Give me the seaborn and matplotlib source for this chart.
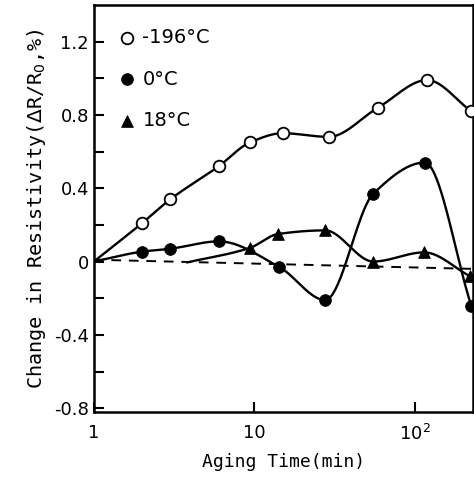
import numpy as np
import pandas as pd
import matplotlib
matplotlib.use("Agg")
import matplotlib.pyplot as plt
import seaborn as sns

t_196 = [2, 3, 6, 9.4, 15, 29, 59, 119, 224]
r_196 = [0.21, 0.34, 0.52, 0.65, 0.70, 0.68, 0.84, 0.99, 0.82]

t_0 = [2, 3, 6, 14.3, 27.6, 55, 115, 224]
r_0 = [0.054, 0.07, 0.11, -0.03, -0.21, 0.37, 0.54, -0.24]

t_18 = [9.4, 14, 27.6, 55, 114, 220]
r_18 = [0.075, 0.15, 0.17, 0.0, 0.05, -0.08]

# where the hand-drawn curves begin (no marker there)
start_196 = (1, 0.0)
start_0 = (1, 0.0)
start_18 = (3.8, -0.005)

# dashed reference line
base_t = [1, 230]
base_r = [0.01, -0.04]


def smooth(tx, ry, n=40):
    # monotone cubic (Fritsch-Carlson) in log-time, for drawing the curve only
    x = np.log10(np.asarray(tx, float))
    y = np.asarray(ry, float)
    h = np.diff(x)
    d = np.diff(y) / h
    m = np.zeros_like(y)
    m[0], m[-1] = d[0], d[-1]
    for i in range(1, len(y) - 1):
        if d[i - 1] * d[i] > 0:
            w1 = 2 * h[i] + h[i - 1]
            w2 = h[i] + 2 * h[i - 1]
            m[i] = (w1 + w2) / (w1 / d[i - 1] + w2 / d[i])
    xs, ys = [], []
    s = np.linspace(0, 1, n, endpoint=False)
    for i in range(len(h)):
        h00 = 2 * s ** 3 - 3 * s ** 2 + 1
        h10 = s ** 3 - 2 * s ** 2 + s
        h01 = -2 * s ** 3 + 3 * s ** 2
        h11 = s ** 3 - s ** 2
        xs.extend(x[i] + s * h[i])
        ys.extend(h00 * y[i] + h10 * h[i] * m[i] + h01 * y[i + 1]
                  + h11 * h[i] * m[i + 1])
    xs.append(x[-1]); ys.append(y[-1])
    return 10 ** np.array(xs), np.array(ys)


sns.set_style("ticks")
plt.rcParams["font.family"] = ["DejaVu Sans"]
plt.rcParams["text.color"] = "black"
plt.rcParams["xtick.color"] = "black"
plt.rcParams["ytick.color"] = "black"
plt.rcParams["axes.labelcolor"] = "black"
plt.rcParams["axes.edgecolor"] = "black"

fig = plt.figure(figsize=(4.74, 4.88), dpi=100)
ax = fig.add_axes([0.198, 0.156, 0.800, 0.834])

curves = [
    (start_196, t_196, r_196),
    (start_0, t_0, r_0),
    (start_18, t_18, r_18),
]
for st, tx, ry in curves:
    cx, cy = smooth([st[0]] + tx, [st[1]] + ry)
    sns.lineplot(x=cx, y=cy, ax=ax, color="black", lw=1.7, sort=False,
                 estimator=None)

sns.lineplot(x=base_t, y=base_r, ax=ax, color="black", lw=1.4,
             linestyle=(0, (5, 4)))

sns.scatterplot(x=t_196, y=r_196, ax=ax, marker="o", s=70,
                facecolor="white", edgecolor="black", linewidth=1.3,
                zorder=5, label="-196°C", clip_on=False)
sns.scatterplot(x=t_0, y=r_0, ax=ax, marker="o", s=70, color="black",
                edgecolor="black", zorder=5, label="0°C", clip_on=False)
sns.scatterplot(x=t_18, y=r_18, ax=ax, marker="^", s=70, color="black",
                edgecolor="black", zorder=5, label="18°C", clip_on=False)

ax.set_xscale("log")
ax.set_xlim(1, 230)
ax.set_ylim(-0.82, 1.40)
ax.set_xticks([1, 10, 100])
ax.set_xticklabels(["1", "10", "10$^2$"])
ax.xaxis.set_minor_locator(matplotlib.ticker.NullLocator())
ax.set_yticks([-0.8, -0.4, 0, 0.4, 0.8, 1.2])
ax.set_yticklabels(["-0.8", "-0.4", "0", "0.4", "0.8", "1.2"])
ax.set_yticks([-0.6, -0.2, 0.2, 0.6, 1.0], minor=True)
ax.tick_params(which="both", direction="in", labelsize=13, width=1.5)
ax.tick_params(which="major", length=7)
ax.tick_params(which="minor", length=7)
ax.tick_params(axis="x", pad=9)
for sp in ax.spines.values():
    sp.set_linewidth(1.8)
    sp.set_visible(True)

ax.set_xlabel("Aging Time(min)", family="DejaVu Sans Mono", fontsize=13,
              labelpad=6)
ax.set_ylabel("Change in Resistivity($\\Delta$R/R$_0$,%)",
              family="DejaVu Sans Mono", fontsize=14.5, labelpad=4)

leg = ax.legend(loc="upper left", frameon=False, fontsize=14,
                handletextpad=0.3, borderaxespad=0.8, labelspacing=1.15,
                handlelength=1.0)

fig.savefig("out.png", dpi=100)
